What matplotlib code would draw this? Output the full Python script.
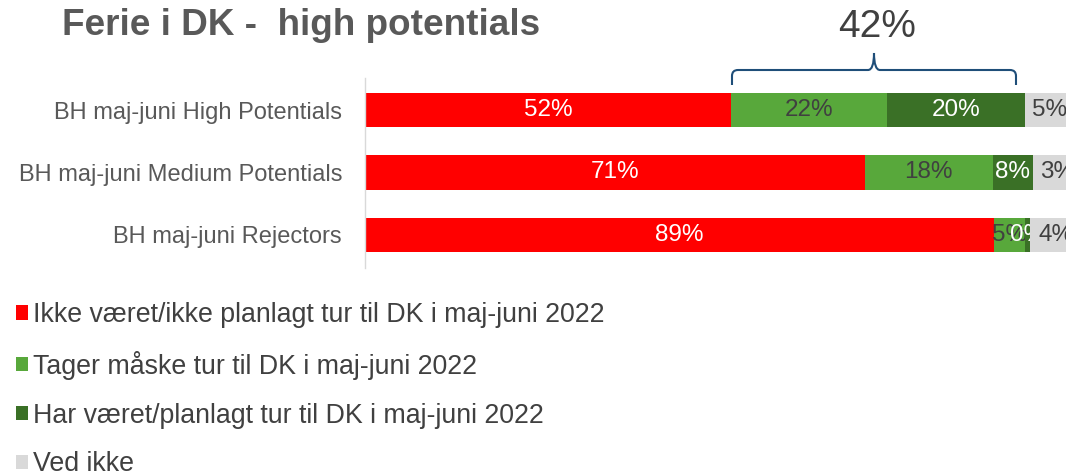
import matplotlib
matplotlib.use("Agg")
import matplotlib.pyplot as plt
from matplotlib.path import Path
from matplotlib.patches import PathPatch, Patch

plt.rcParams['font.family'] = ['Liberation Sans', 'DejaVu Sans']

categories = ["BH maj-juni High Potentials", "BH maj-juni Medium Potentials", "BH maj-juni Rejectors"]
series_names = ["Ikke været/ikke planlagt tur til DK i maj-juni 2022",
                "Tager måske tur til DK i maj-juni 2022",
                "Har været/planlagt tur til DK i maj-juni 2022",
                "Ved ikke"]
values = [
    [52.0, 71.0, 89.3],
    [22.2, 18.2, 4.5],
    [19.6, 5.7, 0.7],
    [6.8, 7.1, 7.4],
]
labels = [
    ["52%", "71%", "89%"],
    ["22%", "18%", "5%"],
    ["20%", "8%", "0%"],
    ["5%", "3%", "4%"],
]
colors = ["#ff0000", "#58a83b", "#3a7026", "#d9d9d9"]
label_colors = ["white", "#404040", "white", "#404040"]
title = "Ferie i DK -  high potentials"
bracket_label = "42%"

W, H = 1066, 475
fig = plt.figure(figsize=(W/100, H/100), dpi=100)
ax = fig.add_axes([365/W, 1-268/H, 1-365/W, 190/H])

y = list(range(len(categories)))
left = [0.0]*len(categories)
for i, (vals, col) in enumerate(zip(values, colors)):
    bars = ax.barh(y, vals, left=left, height=0.55, color=col, zorder=2+i)
    for j, b in enumerate(bars):
        cx = left[j] + vals[j]/2
        ax.text(cx, y[j], labels[i][j], ha='center', va='center', fontsize=17.5,
                color=label_colors[i], zorder=2+i+0.5)
    left = [l+v for l, v in zip(left, vals)]

ax.set_xlim(0, 99.6)
ax.set_ylim(2.528, -0.512)
ax.set_yticks(y)
ax.set_yticklabels(categories, fontsize=17, color="#595959")
ax.tick_params(axis='y', length=0, pad=16.5)
ax.set_xticks([])
for s in ['top', 'right', 'bottom']:
    ax.spines[s].set_visible(False)
ax.spines['left'].set_color('#d9d9d9')
ax.spines['left'].set_linewidth(1)

# Title
fig.text(62/W, 1-35/H, title, fontsize=26.6, fontweight='bold', color='#595959', ha='left', va='baseline')
fig.text(877/W, 1-37/H, bracket_label, fontsize=28, color='#404040', ha='center', va='baseline')

# Brace
def P(x, yy):
    return (x/W, 1-yy/H)
xl, xr, xm = 732, 1016, 874
yb, yh, yt = 85, 70, 53
r = 6
verts = [P(xl, yb), P(xl, yh+r), P(xl, yh), P(xl+r, yh), P(xm-r, yh), P(xm, yh), P(xm, yt),
         P(xm, yh), P(xm+r, yh), P(xr-r, yh), P(xr, yh), P(xr, yh+r), P(xr, yb)]
codes = [Path.MOVETO, Path.LINETO, Path.CURVE3, Path.CURVE3, Path.LINETO, Path.CURVE3, Path.CURVE3,
         Path.CURVE3, Path.CURVE3, Path.LINETO, Path.CURVE3, Path.CURVE3, Path.LINETO]
fig.patches.append(PathPatch(Path(verts, codes), transform=fig.transFigure, fill=False,
                             edgecolor='#1f4e79', linewidth=1.5))

# Legend
handles = [Patch(facecolor=c, edgecolor='none') for c in colors]
leg = fig.legend(handles, series_names, loc='upper left', bbox_to_anchor=(16/W, 1-302/H),
                 frameon=False, fontsize=19.3, labelcolor='#404040', handlelength=0.45,
                 handleheight=0.45, handletextpad=0.2, labelspacing=0.85, borderpad=0,
                 borderaxespad=0)

fig.savefig("out.png", dpi=100)
